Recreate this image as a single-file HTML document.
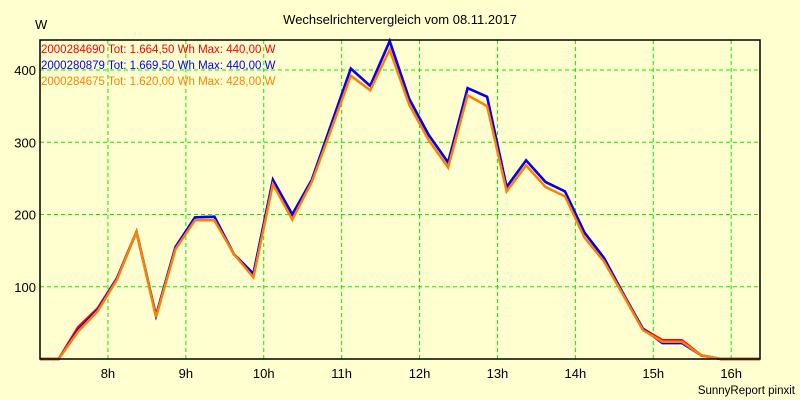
<!DOCTYPE html>
<html><head><meta charset="utf-8"><style>
body{margin:0;background:#ffffd0;}
svg{display:block;font-family:"Liberation Sans",sans-serif;}
</style></head><body>
<svg id="chart" width="800" height="400">
<rect x="0" y="0" width="800" height="400" fill="#ffffd0"/>
<text x="400" y="24" text-anchor="middle" font-size="13">Wechselrichtervergleich vom 08.11.2017</text>
<text x="35" y="29" font-size="13">W</text>
<g id="grid"></g>
<g id="series"></g>
<rect x="40" y="40" width="720" height="319" fill="none" stroke="#000" stroke-width="1.5"/>
<g id="ticks"></g>
<g font-size="11.5">
<text x="41" y="53" fill="#ff0000">2000284690 Tot: 1.664,50 Wh Max: 440,00 W</text>
<text x="41" y="69" fill="#0000ff">2000280879 Tot: 1.669,50 Wh Max: 440,00 W</text>
<text x="41" y="85" fill="#ff8000">2000284675 Tot: 1.620,00 Wh Max: 428,00 W</text>
</g>
<text x="795" y="394" text-anchor="end" font-size="11.5">SunnyReport pinxit</text>
</svg>
<script>
const times=[7.128,7.367,7.617,7.867,8.117,8.367,8.617,8.867,9.117,9.367,9.617,9.867,10.117,10.367,10.617,10.867,11.117,11.367,11.617,11.867,12.117,12.367,12.617,12.867,13.117,13.367,13.617,13.867,14.117,14.367,14.617,14.867,15.117,15.367,15.617,15.867,16.37];
const redVals=[0,0,44,70,112,176,60,155,196,197,145,118,248,200,248,325,402,378,440,360,310,272,375,363,238,275,245,232,175,140,90,42,26,26,5,0,0];
const blueVals=[0,0,40,68,112,176,60,155,196,197,145,118,248,200,248,325,402,378,440,360,310,272,375,363,238,275,245,232,175,140,90,42,22,22,5,0,0];
const orangeVals=[0,0,38,66,110,176,58,152,192,192,145,113,242,193,245,318,392,372,428,352,303,265,365,350,232,268,238,225,168,135,88,40,24,24,5,0,0];
const yTicks=[100,200,300,400];
const xTicks=[8,9,10,11,12,13,14,15,16];
const X0=40,X1=760,Y0=359,Y1=40,T0=7.128,T1=16.37;
const xs=t=>X0+(t-T0)/(T1-T0)*(X1-X0);
const ys=v=>Y0-v*0.7225;
const NS="http://www.w3.org/2000/svg";
const grid=document.getElementById('grid'),ticks=document.getElementById('ticks'),ser=document.getElementById('series');
yTicks.forEach(v=>{
 const l=document.createElementNS(NS,'line');
 
 
 l.setAttribute('x1',X0);l.setAttribute('x2',X1);l.setAttribute('y1',ys(v));l.setAttribute('y2',ys(v));
 l.setAttribute('stroke','#00ee00');l.setAttribute('stroke-dasharray','4,3');grid.appendChild(l);
 const t=document.createElementNS(NS,'text');
 
 
 t.setAttribute('x',36);t.setAttribute('y',ys(v)+5);t.setAttribute('text-anchor','end');t.setAttribute('font-size','13');
 t.textContent=v;ticks.appendChild(t);
});
xTicks.forEach(h=>{
 const l=document.createElementNS(NS,'line');
 
 
 l.setAttribute('x1',xs(h));l.setAttribute('x2',xs(h));l.setAttribute('y1',Y1);l.setAttribute('y2',Y0);
 l.setAttribute('stroke','#00ee00');l.setAttribute('stroke-dasharray','4,3');grid.appendChild(l);
 const t=document.createElementNS(NS,'text');
 
 
 t.setAttribute('x',xs(h));t.setAttribute('y',378);t.setAttribute('text-anchor','middle');t.setAttribute('font-size','13');
 t.textContent=h+'h';ticks.appendChild(t);
});
function draw(vals,color,name){
 const p=document.createElementNS(NS,'polyline');
 
 
 p.setAttribute('points',vals.map((v,i)=>xs(times[i]).toFixed(1)+','+ys(v).toFixed(1)).join(' '));
 p.setAttribute('fill','none');p.setAttribute('stroke',color);p.setAttribute('stroke-width','2.5');
 ser.appendChild(p);
}
draw(redVals,'#ff0000','series-red');
draw(blueVals,'#0000ff','series-blue');
draw(orangeVals,'#ff8000','series-orange');
</script>
</body></html>
